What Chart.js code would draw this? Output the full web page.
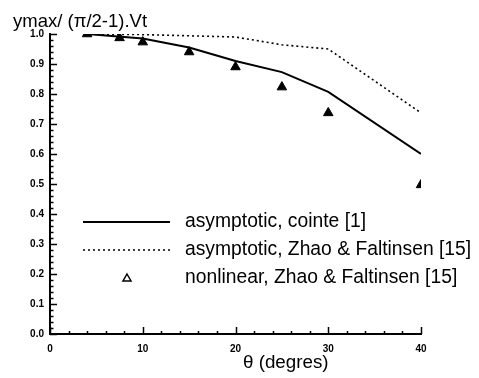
<!DOCTYPE html>
<html>
<head>
<meta charset="utf-8">
<script src="https://cdn.jsdelivr.net/npm/chart.js@4/dist/chart.umd.min.js"></script>
<style>
html,body{margin:0;padding:0;background:#fff;}
#wrap{width:479px;height:378px;}
</style>
</head>
<body>
<div id="wrap"><canvas id="c" width="479" height="378"></canvas></div>
<script>
// ---- data ----
const cointeX = [4, 10, 15, 20, 25, 30, 40];
const cointeY = [1.0, 0.985, 0.955, 0.91, 0.873, 0.807, 0.60];
const zhaoAsymX = [4, 10, 20, 25, 30, 40];
const zhaoAsymY = [1.0, 0.998, 0.99, 0.964, 0.95, 0.737];
const nonlinX = [4, 7.5, 10, 15, 20, 25, 30, 40];
const nonlinY = [1.0, 0.987, 0.973, 0.94, 0.89, 0.823, 0.737, 0.497];
const seriesLabels = ['asymptotic, cointe [1]', 'asymptotic, Zhao & Faltinsen [15]', 'nonlinear, Zhao & Faltinsen [15]'];
const yTitle = 'ymax/ (\u03c0/2-1).Vt';
const xTitle = '\u03b8 (degres)';

const pts = (xs, ys) => xs.map((x, i) => ({x: x, y: ys[i]}));
const FONT = '"Liberation Sans", Arial, Helvetica, sans-serif';

const inwardTicks = {
  id: 'inwardTicks',
  afterDraw(chart) {
    const ctx = chart.ctx, xs = chart.scales.x, ys = chart.scales.y;
    ctx.save();
    ctx.strokeStyle = '#000';
    ctx.lineWidth = 1.5;
    for (let i = 0; i <= 50; i++) {
      const v = i * 0.02;
      const py = Math.round(ys.getPixelForValue(v)) + 0.5;
      const len = (i % 5 === 0) ? 7 : 3.5;
      ctx.beginPath(); ctx.moveTo(xs.left, py); ctx.lineTo(xs.left + len, py); ctx.stroke();
    }
    for (let i = 0; i <= 20; i++) {
      const v = i * 2;
      const px = Math.round(xs.getPixelForValue(v)) + 0.5;
      const len = (i % 5 === 0) ? 7 : 3;
      ctx.beginPath(); ctx.moveTo(px, ys.bottom); ctx.lineTo(px, ys.bottom - len); ctx.stroke();
    }
    ctx.restore();
  }
};

const texts = {
  id: 'texts',
  afterDraw(chart) {
    const ctx = chart.ctx;
    ctx.save();
    ctx.fillStyle = '#000';
    ctx.textBaseline = 'middle';
    ctx.textAlign = 'left';
    ctx.font = '18.5px ' + FONT;
    ctx.fillText(yTitle, 13, 22);
    ctx.font = '18.8px ' + FONT;
    ctx.fillText(xTitle, 243, 363);
    // legend
    const ds = chart.data.datasets;
    const rows = [222, 250, 278];
    ctx.font = '19.3px ' + FONT;
    for (let i = 0; i < ds.length; i++) {
      const y = rows[i];
      if (ds[i].showLine) {
        ctx.save();
        ctx.strokeStyle = ds[i].borderColor;
        ctx.lineWidth = ds[i].borderWidth;
        ctx.setLineDash(ds[i].borderDash || []);
        ctx.beginPath(); ctx.moveTo(83, y); ctx.lineTo(170, y); ctx.stroke();
        ctx.restore();
      } else {
        ctx.save();
        ctx.strokeStyle = '#000';
        ctx.lineWidth = 1.5;
        ctx.beginPath();
        ctx.moveTo(127, y - 4); ctx.lineTo(131, y + 3); ctx.lineTo(123, y + 3); ctx.closePath();
        ctx.stroke();
        ctx.restore();
      }
      ctx.fillText(ds[i].label, 185, y);
    }
    ctx.restore();
  }
};

new Chart(document.getElementById('c'), {
  type: 'scatter',
  data: {
    datasets: [
      {label: seriesLabels[0], data: pts(cointeX, cointeY), showLine: true, borderColor: '#000', borderWidth: 2, pointRadius: 0, fill: false, tension: 0},
      {label: seriesLabels[1], data: pts(zhaoAsymX, zhaoAsymY), showLine: true, borderColor: '#000', borderWidth: 1.6, borderDash: [2, 3], pointRadius: 0, fill: false, tension: 0},
      {label: seriesLabels[2], data: pts(nonlinX, nonlinY), showLine: false, pointStyle: 'triangle', pointRadius: 5.5, backgroundColor: '#000', borderColor: '#000', borderWidth: 1}
    ]
  },
  options: {
    responsive: false,
    animation: false,
    layout: {padding: {top: 34, left: 0, right: 58, bottom: 0}},
    plugins: {legend: {display: false}, tooltip: {enabled: false}, title: {display: false}},
    scales: {
      x: {
        type: 'linear', min: 0, max: 40,
        afterFit(s) { s.height = 44; },
        grid: {display: true, drawOnChartArea: false, drawTicks: false},
        border: {display: true, color: '#000', width: 2},
        ticks: {stepSize: 10, padding: 9, color: '#000', font: {family: FONT, size: 10, weight: 'bold'}, maxRotation: 0}
      },
      y: {
        type: 'linear', min: 0, max: 1,
        afterFit(s) { s.width = 50; },
        grid: {display: true, drawOnChartArea: false, drawTicks: false},
        border: {display: true, color: '#000', width: 2},
        ticks: {stepSize: 0.1, padding: 6, color: '#000', font: {family: FONT, size: 10, weight: 'bold'}, callback: v => v.toFixed(1)}
      }
    }
  },
  plugins: [inwardTicks, texts]
});
</script>
</body>
</html>
